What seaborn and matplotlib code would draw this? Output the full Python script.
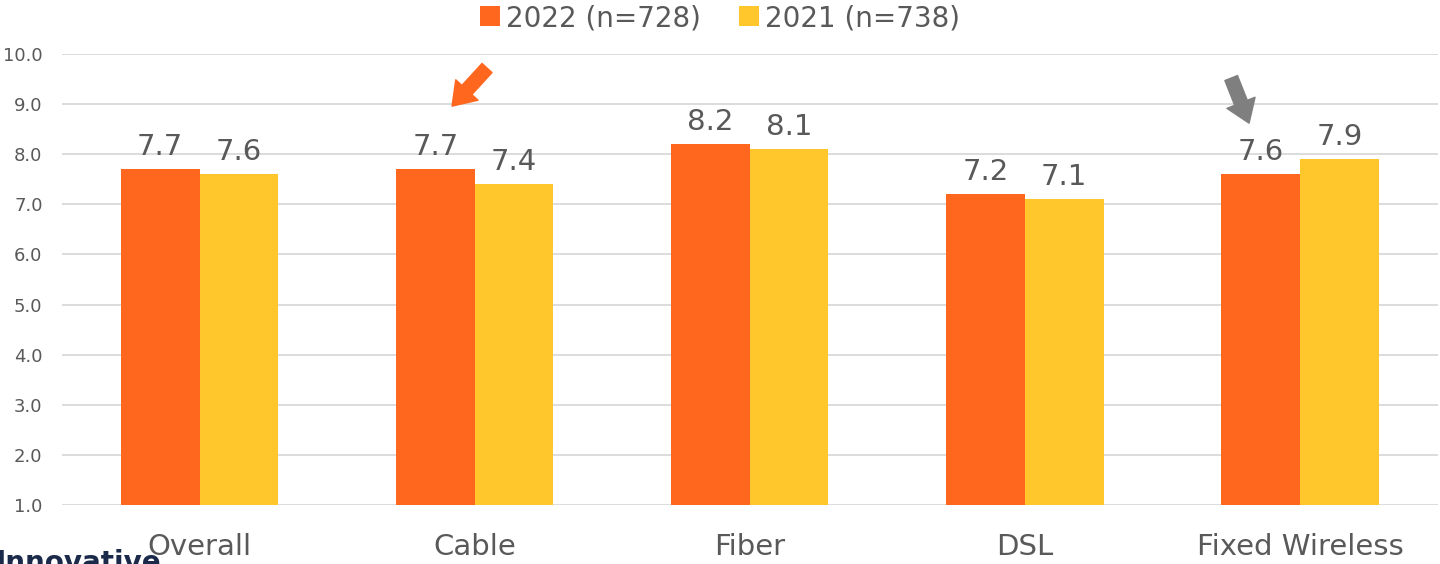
import matplotlib
matplotlib.use("Agg")
import matplotlib.pyplot as plt
import seaborn as sns
import pandas as pd

categories = ["Overall", "Cable", "Fiber", "DSL", "Fixed Wireless"]
series_names = ["2022 (n=728)", "2021 (n=738)"]
values_2022 = [7.7, 7.7, 8.2, 7.2, 7.6]
values_2021 = [7.6, 7.4, 8.1, 7.1, 7.9]
y_ticks = [1.0, 2.0, 3.0, 4.0, 5.0, 6.0, 7.0, 8.0, 9.0, 10.0]

colors = ["#FF671F", "#FFC72C"]
text_gray = "#595959"

df = pd.DataFrame({
    "category": categories * 2,
    "series": [series_names[0]] * len(categories) + [series_names[1]] * len(categories),
    "score": values_2022 + values_2021,
})

sns.set_theme(style="white")
plt.rcParams["font.family"] = ["DejaVu Sans"]

fig = plt.figure(figsize=(14.4, 5.64), dpi=100)
ax = fig.add_axes([62 / 1440, 1 - 505 / 564, (1437.5 - 62) / 1440, (505 - 54) / 564])

sns.barplot(data=df, x="category", y="score", hue="series", order=categories,
            hue_order=series_names, palette=colors, width=0.572, gap=0,
            saturation=1, ax=ax, legend=True, errorbar=None, linewidth=0)

ax.set_ylim(1.0, 10.0)
ax.set_xlim(-0.5, len(categories) - 0.5)
ax.set_yticks(y_ticks)
ax.set_yticklabels([f"{t:.1f}" for t in y_ticks], fontsize=13, color=text_gray)
ax.yaxis.grid(True, color="#D9D9D9", linewidth=1.3)
ax.set_axisbelow(True)
for s in ax.spines.values():
    s.set_visible(False)
ax.tick_params(axis="y", length=0, pad=14)
ax.tick_params(axis="x", length=0, pad=20, labelsize=21, labelcolor=text_gray)
ax.set_xlabel("")
ax.set_ylabel("")

for cont in ax.containers:
    ax.bar_label(cont, fmt="%.1f", padding=6, fontsize=21, color=text_gray)

# Legend above the plot
handles, labels = ax.get_legend_handles_labels()
ax.get_legend().remove()
fig.legend(handles, labels, loc="center", bbox_to_anchor=(0.5, 1 - 18 / 564),
           ncol=2, frameon=False, fontsize=20, labelcolor=text_gray,
           handlelength=0.72, handleheight=0.72, handletextpad=0.2,
           columnspacing=1.4, borderpad=0)

# Highlight arrows
arrow_style = "simple,head_length=1.05,head_width=1.45,tail_width=0.65"
ax.annotate("", xy=(0.918, 8.96), xytext=(1.045, 9.72),
            arrowprops=dict(arrowstyle=arrow_style, color="#FF671F",
                            mutation_scale=15, shrinkA=0, shrinkB=0),
            annotation_clip=False)
ax.annotate("", xy=(3.815, 8.62), xytext=(3.750, 9.52),
            arrowprops=dict(arrowstyle=arrow_style, color="#7F7F7F",
                            mutation_scale=15, shrinkA=0, shrinkB=0),
            annotation_clip=False)

# Brand wordmark at the lower left
fig.text(-0.003, -0.012, "Innovative", fontsize=20, fontweight="bold",
         color="#1B2A4A", ha="left", va="baseline")

fig.savefig("out.png", dpi=100)
